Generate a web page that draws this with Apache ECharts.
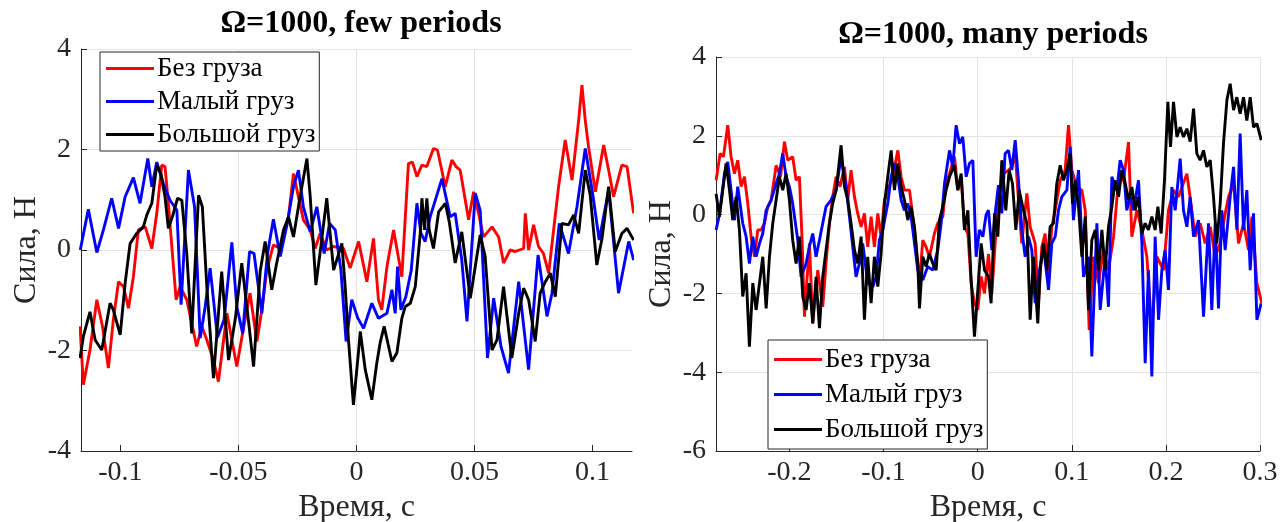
<!DOCTYPE html>
<html><head><meta charset="utf-8">
<script src="https://cdn.jsdelivr.net/npm/echarts@6/dist/echarts.min.js"></script>
<style>html,body{margin:0;padding:0;background:#fff}#c{width:1281px;height:522px}</style>
</head><body><div id="c"></div>
<script>
const seriesNames = ['Без груза', 'Малый груз', 'Большой груз'];
const seriesColors = ['#ff0000', '#0000ff', '#000000'];
const titles = ['Ω=1000, few periods', 'Ω=1000, many periods'];
const xName = 'Время, с';
const yName = 'Сила, Н';
const xTicksFew = [-0.1, -0.05, 0, 0.05, 0.1];
const xTicksMany = [-0.2, -0.1, 0, 0.1, 0.2, 0.3];

// left panel: [time, force]
const fewRed = [[-0.1171,-1.52],[-0.1157,-2.68],[-0.1129,-1.99],[-0.1100,-0.99],[-0.1076,-1.52],[-0.1051,-2.35],[-0.1030,-1.39],[-0.1008,-0.63],[-0.0987,-0.73],[-0.0966,-1.16],[-0.0945,-0.53],[-0.0924,0.40],[-0.0895,0.46],[-0.0867,0.03],[-0.0846,0.73],[-0.0825,1.69],[-0.0811,1.66],[-0.0797,0.93],[-0.0764,-0.99],[-0.0747,-0.73],[-0.0719,-0.99],[-0.0677,-1.92],[-0.0655,-1.52],[-0.0634,-1.79],[-0.0606,-2.19],[-0.0585,-2.62],[-0.0549,-1.26],[-0.0507,-2.32],[-0.0479,-1.56],[-0.0451,-0.86],[-0.0422,-1.82],[-0.0401,-1.19],[-0.0380,-0.40],[-0.0352,0.10],[-0.0323,0.03],[-0.0288,0.66],[-0.0267,1.52],[-0.0246,1.06],[-0.0225,0.60],[-0.0196,0.40],[-0.0175,0.03],[-0.0154,0.33],[-0.0126,0.00],[-0.0097,0.07],[-0.0055,0.03],[-0.0027,-0.36],[0.0009,0.17],[0.0044,-0.63],[0.0072,0.23],[0.0093,-0.99],[0.0107,-1.19],[0.0129,-0.33],[0.0157,0.40],[0.0192,-0.53],[0.0220,1.72],[0.0237,1.75],[0.0256,1.46],[0.0277,1.69],[0.0298,1.66],[0.0326,2.02],[0.0343,1.99],[0.0376,1.26],[0.0404,1.79],[0.0422,1.66],[0.0439,1.59],[0.0475,0.60],[0.0496,1.16],[0.0517,0.73],[0.0538,0.26],[0.0574,0.46],[0.0602,0.26],[0.0623,-0.26],[0.0651,0.00],[0.0672,-0.03],[0.0708,0.03],[0.0715,0.73],[0.0729,0.00],[0.0750,0.50],[0.0771,0.07],[0.0792,-0.07],[0.0814,-0.46],[0.0835,0.40],[0.0856,1.26],[0.0884,2.19],[0.0913,1.39],[0.0941,2.58],[0.0955,3.28],[0.0969,2.58],[0.0983,2.05],[0.1012,1.16],[0.1047,2.09],[0.1068,1.59],[0.1089,1.06],[0.1124,1.69],[0.1146,1.66],[0.1174,0.73]];
const fewBlue = [[-0.1170,0.00],[-0.1164,-0.03],[-0.1136,0.81],[-0.1100,-0.05],[-0.1072,0.40],[-0.1037,1.03],[-0.1008,0.43],[-0.0980,1.06],[-0.0945,1.44],[-0.0917,0.93],[-0.0884,1.82],[-0.0867,1.26],[-0.0846,1.75],[-0.0818,1.32],[-0.0790,0.99],[-0.0761,0.79],[-0.0743,-1.09],[-0.0712,1.59],[-0.0686,0.86],[-0.0662,-1.75],[-0.0641,-1.13],[-0.0620,-0.36],[-0.0589,-1.74],[-0.0561,-1.39],[-0.0528,0.15],[-0.0507,-1.13],[-0.0482,-1.66],[-0.0453,-0.03],[-0.0434,-0.07],[-0.0401,-1.26],[-0.0377,-0.07],[-0.0352,0.61],[-0.0323,-0.13],[-0.0292,0.56],[-0.0267,1.26],[-0.0246,1.59],[-0.0225,0.86],[-0.0196,0.36],[-0.0168,0.86],[-0.0137,-0.07],[-0.0114,0.53],[-0.0090,0.40],[-0.0066,-0.40],[-0.0044,-1.82],[-0.0020,-0.99],[0.0005,-1.35],[0.0030,-1.56],[0.0065,-1.06],[0.0093,-1.36],[0.0129,-1.26],[0.0150,-0.79],[0.0164,-1.26],[0.0174,-0.33],[0.0188,-1.19],[0.0209,-0.93],[0.0232,-0.40],[0.0256,0.93],[0.0273,0.33],[0.0291,0.17],[0.0312,0.66],[0.0362,1.42],[0.0397,0.66],[0.0418,0.73],[0.0446,-0.20],[0.0468,-1.42],[0.0503,1.13],[0.0524,0.79],[0.0555,-2.15],[0.0581,-0.96],[0.0612,-1.92],[0.0644,-2.45],[0.0687,-0.63],[0.0729,-2.38],[0.0769,-0.10],[0.0807,-1.32],[0.0828,-0.86],[0.0859,0.53],[0.0898,-0.07],[0.0934,0.86],[0.0969,2.02],[0.1000,1.13],[0.1028,0.20],[0.1068,1.19],[0.1110,-0.86],[0.1153,0.17],[0.1174,-0.20]];
const fewBlack = [[-0.1171,-2.15],[-0.1157,-1.72],[-0.1129,-1.23],[-0.1107,-1.79],[-0.1079,-1.99],[-0.1044,-1.06],[-0.1030,-1.19],[-0.1001,-1.69],[-0.0980,-0.66],[-0.0959,0.13],[-0.0931,0.33],[-0.0903,0.46],[-0.0888,0.70],[-0.0867,0.93],[-0.0846,1.69],[-0.0829,1.52],[-0.0811,1.06],[-0.0797,0.43],[-0.0780,0.66],[-0.0758,1.03],[-0.0740,0.99],[-0.0719,-0.07],[-0.0698,-1.66],[-0.0669,1.09],[-0.0653,0.86],[-0.0634,-0.73],[-0.0606,-2.55],[-0.0589,-1.52],[-0.0571,-0.43],[-0.0542,-2.19],[-0.0514,-1.39],[-0.0486,-0.26],[-0.0458,-1.39],[-0.0436,-2.32],[-0.0408,-0.43],[-0.0387,0.17],[-0.0359,-0.79],[-0.0338,-0.26],[-0.0309,0.40],[-0.0288,0.66],[-0.0267,0.26],[-0.0239,1.06],[-0.0210,1.82],[-0.0196,1.06],[-0.0172,-0.70],[-0.0151,0.07],[-0.0126,1.03],[-0.0097,-0.40],[-0.0062,0.13],[-0.0048,-0.73],[-0.0034,-1.79],[-0.0013,-3.08],[0.0008,-2.05],[0.0016,-1.62],[0.0037,-2.38],[0.0065,-2.98],[0.0086,-2.25],[0.0100,-1.85],[0.0117,-1.52],[0.0136,-1.92],[0.0150,-2.22],[0.0171,-2.05],[0.0192,-1.36],[0.0206,-1.13],[0.0228,-1.06],[0.0249,-0.73],[0.0270,0.33],[0.0277,1.03],[0.0288,0.40],[0.0298,1.03],[0.0308,0.40],[0.0326,0.03],[0.0348,0.76],[0.0376,0.93],[0.0393,0.56],[0.0418,-0.26],[0.0446,0.36],[0.0482,-0.96],[0.0524,0.30],[0.0545,-0.13],[0.0574,-1.99],[0.0595,-1.79],[0.0623,-0.73],[0.0658,-2.15],[0.0687,-1.26],[0.0708,-0.76],[0.0729,-0.99],[0.0757,-1.82],[0.0778,-0.86],[0.0800,-0.63],[0.0821,-0.46],[0.0842,-0.93],[0.0870,0.53],[0.0898,0.50],[0.0920,0.70],[0.0941,0.33],[0.0969,1.59],[0.0990,1.09],[0.1018,-0.30],[0.1040,0.23],[0.1068,1.26],[0.1096,-0.03],[0.1124,0.33],[0.1146,0.43],[0.1174,0.20]];

// right panel: [time, force]
const manyRed = [[-0.2779,0.87],[-0.2736,1.55],[-0.2701,1.47],[-0.2655,2.27],[-0.2620,1.47],[-0.2584,1.04],[-0.2549,1.38],[-0.2513,0.71],[-0.2478,0.96],[-0.2442,0.28],[-0.2407,-0.56],[-0.2371,-1.07],[-0.2336,-0.39],[-0.2301,-0.39],[-0.2265,-0.22],[-0.2230,0.20],[-0.2194,0.37],[-0.2141,1.25],[-0.2095,0.96],[-0.2053,1.85],[-0.2018,1.38],[-0.1965,1.47],[-0.1929,0.87],[-0.1894,0.96],[-0.1865,-0.65],[-0.1840,-2.59],[-0.1787,-0.73],[-0.1752,-2.76],[-0.1699,-1.41],[-0.1646,-2.34],[-0.1611,-1.24],[-0.1575,-0.22],[-0.1540,0.45],[-0.1504,0.96],[-0.1462,0.71],[-0.1415,1.21],[-0.1380,0.37],[-0.1345,1.13],[-0.1309,0.45],[-0.1274,0.03],[-0.1238,-0.31],[-0.1203,0.03],[-0.1168,-0.82],[-0.1132,-0.05],[-0.1097,-0.82],[-0.1061,0.03],[-0.1026,-0.56],[-0.0990,0.37],[-0.0955,0.62],[-0.0902,0.96],[-0.0848,1.63],[-0.0813,0.96],[-0.0778,0.62],[-0.0724,0.62],[-0.0671,-0.39],[-0.0618,-1.74],[-0.0583,-0.65],[-0.0548,-0.82],[-0.0512,-1.07],[-0.0459,-0.48],[-0.0424,-0.22],[-0.0370,-0.05],[-0.0335,0.79],[-0.0299,1.04],[-0.0246,1.47],[-0.0211,0.62],[-0.0175,0.96],[-0.0140,-0.31],[-0.0104,-0.48],[-0.0069,-1.74],[-0.0034,-2.25],[0.0002,-2.42],[0.0037,-1.57],[0.0073,-2.00],[0.0115,-1.00],[0.0151,-2.00],[0.0186,-0.73],[0.0221,0.37],[0.0275,1.04],[0.0328,1.13],[0.0363,1.21],[0.0399,1.55],[0.0434,0.37],[0.0469,-0.73],[0.0523,0.54],[0.0558,-0.31],[0.0611,-0.73],[0.0646,-2.25],[0.0682,-0.82],[0.0717,-0.48],[0.0753,-1.57],[0.0788,-0.31],[0.0824,0.11],[0.0877,0.87],[0.0930,1.13],[0.0965,2.27],[0.1001,1.13],[0.1054,0.70],[0.1107,0.62],[0.1143,0.11],[0.1185,-2.93],[0.1231,-1.07],[0.1284,-1.74],[0.1337,-0.90],[0.1390,-1.41],[0.1444,-0.56],[0.1497,0.87],[0.1550,0.87],[0.1603,1.84],[0.1638,-0.56],[0.1692,0.11],[0.1745,-0.39],[0.1798,-1.07],[0.1851,-2.93],[0.1904,-1.07],[0.1975,-1.41],[0.2028,0.11],[0.2081,0.62],[0.2134,0.45],[0.2223,1.04],[0.2276,0.11],[0.2311,-0.56],[0.2364,-0.22],[0.2418,-0.73],[0.2471,-0.31],[0.2524,-1.07],[0.2577,-0.73],[0.2630,0.03],[0.2666,0.45],[0.2719,0.79],[0.2772,-0.73],[0.2825,-0.22],[0.2878,-0.90],[0.2914,-0.05],[0.2967,-1.74],[0.3019,-2.25]];
const manyBlue = [[-0.2779,-0.39],[-0.2744,0.00],[-0.2690,1.04],[-0.2655,1.34],[-0.2620,0.62],[-0.2584,-0.14],[-0.2549,0.71],[-0.2496,-0.22],[-0.2460,-0.56],[-0.2425,-1.24],[-0.2389,-0.56],[-0.2354,-1.07],[-0.2318,-0.73],[-0.2283,-0.48],[-0.2247,0.11],[-0.2194,0.37],[-0.2141,0.79],[-0.2106,1.04],[-0.2071,1.55],[-0.2035,0.96],[-0.2000,0.71],[-0.1965,0.28],[-0.1911,-0.65],[-0.1876,-1.58],[-0.1823,-1.24],[-0.1787,-0.81],[-0.1752,-0.48],[-0.1717,-1.07],[-0.1681,-0.65],[-0.1646,-0.22],[-0.1611,0.20],[-0.1558,0.37],[-0.1504,0.62],[-0.1451,1.47],[-0.1398,0.71],[-0.1362,-0.05],[-0.1327,-0.81],[-0.1292,-1.58],[-0.1256,-1.24],[-0.1221,-0.73],[-0.1168,-1.74],[-0.1114,-1.83],[-0.1079,-1.58],[-0.1044,-0.65],[-0.1008,-0.39],[-0.0955,0.28],[-0.0919,0.96],[-0.0884,1.30],[-0.0848,0.96],[-0.0813,0.37],[-0.0778,0.11],[-0.0742,0.28],[-0.0707,-0.05],[-0.0671,-0.73],[-0.0636,-1.41],[-0.0583,-1.66],[-0.0530,-1.32],[-0.0477,-1.41],[-0.0424,-0.90],[-0.0388,-0.22],[-0.0352,0.79],[-0.0299,1.63],[-0.0264,1.21],[-0.0229,2.27],[-0.0193,1.80],[-0.0158,1.97],[-0.0122,0.96],[-0.0087,1.30],[-0.0051,1.38],[-0.0016,-1.07],[0.0019,-0.39],[0.0055,-0.56],[0.0090,0.00],[0.0115,0.11],[0.0151,-0.90],[0.0186,0.03],[0.0221,0.75],[0.0257,0.03],[0.0292,1.55],[0.0328,1.63],[0.0363,1.13],[0.0399,1.89],[0.0434,0.87],[0.0469,-0.39],[0.0505,-1.07],[0.0540,-0.56],[0.0576,-0.90],[0.0611,-2.25],[0.0646,-1.58],[0.0700,-0.82],[0.0753,-1.91],[0.0788,-0.73],[0.0824,-0.56],[0.0859,0.11],[0.0894,0.45],[0.0948,0.62],[0.0983,1.72],[0.1018,-0.14],[0.1072,1.13],[0.1125,-1.58],[0.1178,-1.07],[0.1213,-3.60],[0.1267,-0.22],[0.1302,-2.42],[0.1355,-1.07],[0.1390,-2.34],[0.1426,0.96],[0.1479,0.62],[0.1514,1.38],[0.1550,1.13],[0.1585,0.11],[0.1621,0.45],[0.1656,0.11],[0.1709,0.87],[0.1745,-0.73],[0.1780,-3.77],[0.1815,-1.41],[0.1851,-4.11],[0.1886,-0.56],[0.1922,-2.67],[0.1957,-1.41],[0.1992,-0.90],[0.2028,-1.91],[0.2063,0.70],[0.2099,0.11],[0.2152,1.42],[0.2187,0.11],[0.2223,-0.31],[0.2258,0.45],[0.2294,-0.56],[0.2347,-0.14],[0.2400,-2.59],[0.2453,-0.22],[0.2488,-2.42],[0.2524,-0.22],[0.2559,-2.38],[0.2595,0.11],[0.2630,-0.90],[0.2683,0.45],[0.2719,1.21],[0.2754,-0.39],[0.2789,2.06],[0.2825,-0.39],[0.2860,0.62],[0.2896,-1.41],[0.2931,0.03],[0.2967,-2.67],[0.3013,-2.25]];
const manyBlack = [[-0.2779,0.53],[-0.2744,-0.05],[-0.2708,0.62],[-0.2673,1.30],[-0.2637,0.62],[-0.2602,-0.14],[-0.2566,0.45],[-0.2531,-0.39],[-0.2496,-2.08],[-0.2460,-1.49],[-0.2425,-3.35],[-0.2389,-1.74],[-0.2354,-2.42],[-0.2318,-1.74],[-0.2283,-1.07],[-0.2247,-2.38],[-0.2212,-1.07],[-0.2177,-0.22],[-0.2141,0.37],[-0.2106,0.96],[-0.2071,0.62],[-0.2035,1.04],[-0.2000,0.37],[-0.1965,-0.65],[-0.1929,-1.24],[-0.1894,-0.56],[-0.1858,-2.08],[-0.1823,-2.42],[-0.1787,-1.74],[-0.1752,-2.76],[-0.1717,-1.58],[-0.1681,-2.88],[-0.1646,-1.58],[-0.1611,-0.90],[-0.1575,-0.22],[-0.1540,0.28],[-0.1504,0.62],[-0.1451,1.76],[-0.1415,0.71],[-0.1380,0.37],[-0.1345,-0.22],[-0.1309,-0.90],[-0.1274,-1.24],[-0.1238,-0.56],[-0.1203,-2.67],[-0.1168,-1.07],[-0.1132,-2.25],[-0.1097,-1.07],[-0.1061,-1.83],[-0.1026,-0.99],[-0.0990,0.28],[-0.0955,0.96],[-0.0919,1.63],[-0.0884,0.62],[-0.0848,1.30],[-0.0813,0.71],[-0.0778,0.37],[-0.0742,-0.14],[-0.0707,0.20],[-0.0671,-0.31],[-0.0636,-1.24],[-0.0618,-2.38],[-0.0583,-1.07],[-0.0548,-1.32],[-0.0512,-0.99],[-0.0477,-1.24],[-0.0441,-1.41],[-0.0406,-0.14],[-0.0370,0.20],[-0.0335,0.62],[-0.0299,0.96],[-0.0246,1.25],[-0.0211,0.62],[-0.0175,1.04],[-0.0140,-0.39],[-0.0104,0.11],[-0.0069,-1.66],[-0.0034,-3.10],[0.0002,-1.91],[0.0037,-0.73],[0.0073,-1.41],[0.0115,-1.58],[0.0143,-2.25],[0.0179,0.03],[0.0214,-0.56],[0.0257,1.38],[0.0299,0.11],[0.0335,1.13],[0.0370,0.79],[0.0406,-0.39],[0.0441,0.62],[0.0487,0.11],[0.0523,-0.22],[0.0558,-2.67],[0.0593,-1.07],[0.0639,-2.76],[0.0664,-1.41],[0.0700,-0.73],[0.0735,-1.41],[0.0770,-0.31],[0.0806,-0.22],[0.0841,0.79],[0.0877,1.25],[0.0912,0.87],[0.0948,1.13],[0.0983,1.55],[0.1008,0.28],[0.1036,0.87],[0.1072,0.20],[0.1107,-1.07],[0.1143,-0.05],[0.1178,-2.42],[0.1213,-0.65],[0.1249,-0.39],[0.1284,-1.41],[0.1320,-0.39],[0.1355,-1.41],[0.1390,-0.31],[0.1426,0.20],[0.1461,0.87],[0.1497,0.45],[0.1532,1.13],[0.1568,0.79],[0.1603,0.37],[0.1638,0.70],[0.1674,0.11],[0.1709,0.45],[0.1745,-0.48],[0.1780,-0.22],[0.1815,-0.39],[0.1851,-0.05],[0.1886,-0.39],[0.1915,0.20],[0.1950,-0.48],[0.1985,0.87],[0.2021,2.86],[0.2049,1.72],[0.2081,2.86],[0.2117,1.97],[0.2152,2.22],[0.2187,1.97],[0.2223,2.18],[0.2258,1.85],[0.2294,2.69],[0.2329,1.55],[0.2364,1.38],[0.2400,1.63],[0.2435,1.21],[0.2471,1.38],[0.2506,0.45],[0.2541,-0.73],[0.2577,0.28],[0.2612,1.80],[0.2648,2.90],[0.2683,3.32],[0.2719,2.65],[0.2754,2.98],[0.2789,2.56],[0.2825,2.98],[0.2860,2.39],[0.2896,2.98],[0.2931,2.22],[0.2967,2.31],[0.3013,1.89]];

const FONT = 'Liberation Serif';
const AX = '#262626';
const GRIDC = '#e3e3e3';

function xAxisOf(grid, min, max, ticks) {
  return {
    type: 'value', gridIndex: grid, min: min, max: max,
    name: xName, nameLocation: 'middle', nameGap: 33,
    nameTextStyle: {fontFamily: FONT, fontSize: 32, color: AX},
    axisLine: {show: true, onZero: false, lineStyle: {color: AX, width: 1}},
    axisTick: {show: true, inside: true, length: 6, lineStyle: {color: AX}, customValues: ticks},
    axisLabel: {fontFamily: FONT, fontSize: 28, color: AX, margin: 8, customValues: ticks},
    splitLine: {show: true, showMinLine: false, showMaxLine: grid === 1, lineStyle: {color: GRIDC, width: 1}}
  };
}
function yAxisOf(grid, min, max) {
  return {
    type: 'value', gridIndex: grid, min: min, max: max, interval: 2,
    name: yName, nameLocation: 'middle', nameGap: 38, nameRotate: 90,
    nameTextStyle: {fontFamily: FONT, fontSize: 32, color: AX},
    axisLine: {show: true, onZero: false, lineStyle: {color: AX, width: 1}},
    axisTick: {show: true, inside: true, length: 6, lineStyle: {color: AX}},
    axisLabel: {fontFamily: FONT, fontSize: 28, color: AX, margin: 10},
    splitLine: {show: true, lineStyle: {color: GRIDC, width: 1}}
  };
}
function legendOf(left, top, gap, padV) {
  return {
    orient: 'vertical', left: left, top: top, data: seriesNames,
    icon: 'rect', itemWidth: 48, itemHeight: 3, itemGap: gap,
    backgroundColor: '#fff', borderColor: AX, borderWidth: 1, borderRadius: 0,
    padding: [padV, 4, padV, 6],
    textStyle: {fontFamily: FONT, fontSize: 27, color: '#000', lineHeight: 25, padding: [0, 0, 0, -2]},
    selectedMode: false
  };
}
const panelData = [[fewRed, fewBlue, fewBlack], [manyRed, manyBlue, manyBlack]];
const series = [];
panelData.forEach((arr, g) => {
  arr.forEach((d, i) => {
    series.push({
      type: 'line', name: seriesNames[i], xAxisIndex: g, yAxisIndex: g, data: d,
      showSymbol: false, symbol: 'none', color: seriesColors[i],
      lineStyle: {color: seriesColors[i], width: 2.9}, z: 2 + i, animation: false
    });
  });
});

const chart = echarts.init(document.getElementById('c'), null, {renderer: 'canvas'});
chart.setOption({
  backgroundColor: '#fff',
  animation: false,
  title: [
    {text: titles[0], left: 356, top: 3, textAlign: 'center', textStyle: {fontFamily: FONT, fontWeight: 'bold', fontSize: 32, color: '#000'}},
    {text: titles[1], left: 988, top: 14, textAlign: 'center', textStyle: {fontFamily: FONT, fontWeight: 'bold', fontSize: 32, color: '#000'}}
  ],
  grid: [
    {left: 81, right: 649, top: 49, bottom: 71, outerBoundsMode: 'none', containLabel: false},
    {left: 716, right: 21, top: 57, bottom: 71, outerBoundsMode: 'none', containLabel: false}
  ],
  xAxis: [xAxisOf(0, -0.1167, 0.1167, xTicksFew), xAxisOf(1, -0.278, 0.3, xTicksMany)],
  yAxis: [yAxisOf(0, -4, 4), yAxisOf(1, -6, 4)],
  legend: [legendOf(100, 52, 6, 3), legendOf(768, 340, 8, 6)],
  series: series
});
</script>
</body></html>
